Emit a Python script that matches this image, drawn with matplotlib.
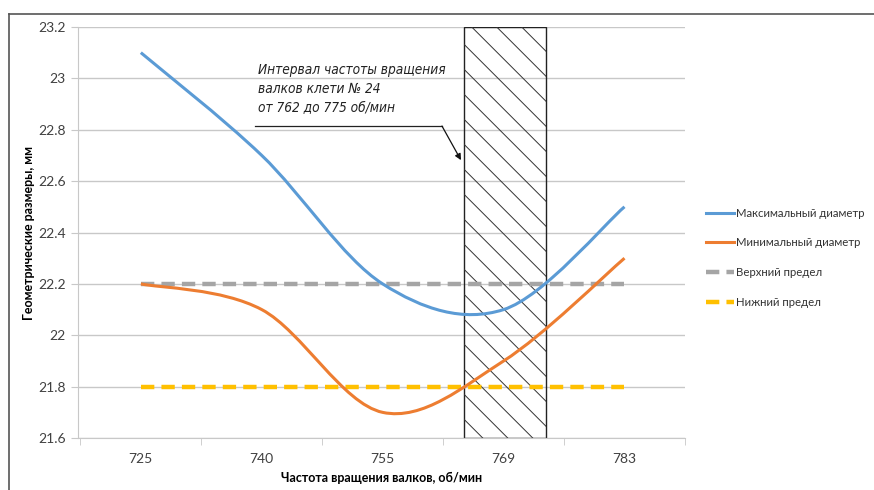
import matplotlib
matplotlib.use('Agg')
import matplotlib.pyplot as plt
import numpy as np
from matplotlib.path import Path
from matplotlib.patches import PathPatch, Rectangle
from matplotlib.lines import Line2D

plt.rcParams['font.family'] = ['Lato', 'DejaVu Sans']

# Данные
speeds = ['725', '740', '755', '769', '783']
d_max = [23.1, 22.7, 22.2, 22.1, 22.5]
d_min = [22.2, 22.1, 21.7, 21.9, 22.3]
upper = [22.2, 22.2, 22.2, 22.2, 22.2]
lower = [21.8, 21.8, 21.8, 21.8, 21.8]
zone = [2.67, 3.35]   # интервал 762-775 об/мин на категориальной оси


def smooth(xs, ys):
    # сглаживание как в Excel (кривые Безье через точки)
    p = np.column_stack([xs, ys]).astype(float)
    n = len(p)
    verts = [p[0]]
    codes = [Path.MOVETO]
    for i in range(n - 1):
        p0 = p[i - 1] if i > 0 else p[i]
        p3 = p[i + 2] if i + 2 < n else p[i + 1]
        c1 = p[i] + (p[i + 1] - p0) / 6
        c2 = p[i + 1] - (p3 - p[i]) / 6
        verts += [c1, c2, p[i + 1]]
        codes += [Path.CURVE4] * 3
    return Path(verts, codes)


fig = plt.figure(figsize=(8.74, 4.90), dpi=100)
ax = fig.add_axes([0.0892, 0.106, 0.6945, 0.839])

x = np.arange(len(speeds))
grid_c = '#c8c8c8'
xlim = (-0.52, 4.5)
ylim = (21.6, 23.2)
ax.set_xlim(*xlim)
ax.set_ylim(*ylim)

# Заштрихованная область (штриховка реже стандартной)
box = Rectangle((zone[0], ylim[0]), zone[1] - zone[0], ylim[1] - ylim[0], fill=False,
                edgecolor='#222222', lw=1.0, zorder=2)
ax.add_patch(box)
bb = ax.get_window_extent()
ux = (xlim[1] - xlim[0]) / bb.width      # единиц x на пиксель
uy = (ylim[1] - ylim[0]) / bb.height     # единиц y на пиксель
step = 25 * ux
run = (ylim[1] - ylim[0]) / uy * ux
for k in range(-20, 6):
    x0 = zone[0] + 8 * ux + k * step
    ln, = ax.plot([x0, x0 + run], [ylim[1], ylim[0]], color='#333333', lw=0.7, zorder=2)
    ln.set_clip_path(box)

ax.plot(x, upper, color='#a5a5a5', lw=3.2, dashes=(3, 1.6), zorder=3)
ax.plot(x, lower, color='#ffc000', lw=3.2, dashes=(3, 1.6), zorder=3)
ax.add_patch(PathPatch(smooth(x, d_max), fill=False, edgecolor='#5b9bd5', lw=2.2, zorder=4))
ax.add_patch(PathPatch(smooth(x, d_min), fill=False, edgecolor='#ed7d31', lw=2.2, zorder=4))

ax.set_yticks(np.arange(21.6, 23.21, 0.2))
ax.set_yticklabels(['21.6', '21.8', '22', '22.2', '22.4', '22.6', '22.8', '23', '23.2'])
ax.set_xticks(x)
ax.set_xticklabels(speeds)
ax.set_xticks(np.arange(-0.5, 4.6, 1), minor=True)
ax.tick_params(axis='x', which='major', length=0, pad=11, labelsize=10, colors='#404040')
ax.tick_params(axis='x', which='minor', length=5, color=grid_c)
ax.tick_params(axis='y', length=5, color=grid_c, labelsize=10, colors='#404040', pad=4)
ax.grid(axis='y', color=grid_c, lw=1.0, zorder=0)
for s in ['top', 'right']:
    ax.spines[s].set_visible(False)
ax.spines['left'].set_color(grid_c)
ax.spines['bottom'].set_color(grid_c)

ax.set_xlabel('Частота вращения валков, об/мин', fontsize=9, fontweight='bold', labelpad=5)
ax.set_ylabel('Геометрические размеры, мм', fontsize=9, fontweight='bold', labelpad=2)

# Выноска
ax.text(0.2965, 0.913, 'Интервал частоты вращения\nвалков клети № 24\nот 762 до 775 об/мин',
        transform=ax.transAxes, ha='left', va='top', fontsize=9.8, style='italic',
        family=['DejaVu Sans'], fontstretch='condensed', linespacing=1.45, color='#222222',
        bbox=dict(facecolor='white', edgecolor='none', pad=1), zorder=1.5)
ax.plot([0.2916, 0.5997], [0.759, 0.759], transform=ax.transAxes, color='#222222', lw=0.9, zorder=5)
ax.annotate('', xy=(0.631, 0.676), xytext=(0.5997, 0.759), xycoords='axes fraction',
            arrowprops=dict(arrowstyle='-|>', color='#111111', lw=0.9, mutation_scale=9,
                            shrinkA=0, shrinkB=0), zorder=5)

# Легенда
handles = [Line2D([], [], color='#5b9bd5', lw=2.2),
           Line2D([], [], color='#ed7d31', lw=2.2),
           Line2D([], [], color='#a5a5a5', lw=3.2, dashes=(3, 1.6)),
           Line2D([], [], color='#ffc000', lw=3.2, dashes=(3, 1.6))]
labels = ['Максимальный диаметр', 'Минимальный диаметр', 'Верхний предел', 'Нижний предел']
fig.legend(handles, labels, loc='center left', bbox_to_anchor=(0.796, 0.474), frameon=False,
           fontsize=8.2, handlelength=2.5, handletextpad=0.1, labelspacing=1.65,
           labelcolor='#333333')

# Рамка страницы
fig.add_artist(Line2D([0.0103, 0.0103], [0, 0.972], color='#555555', lw=1.2))
fig.add_artist(Line2D([0.0103, 1.0], [0.972, 0.972], color='#555555', lw=1.2))

fig.savefig('out.png', dpi=100)
